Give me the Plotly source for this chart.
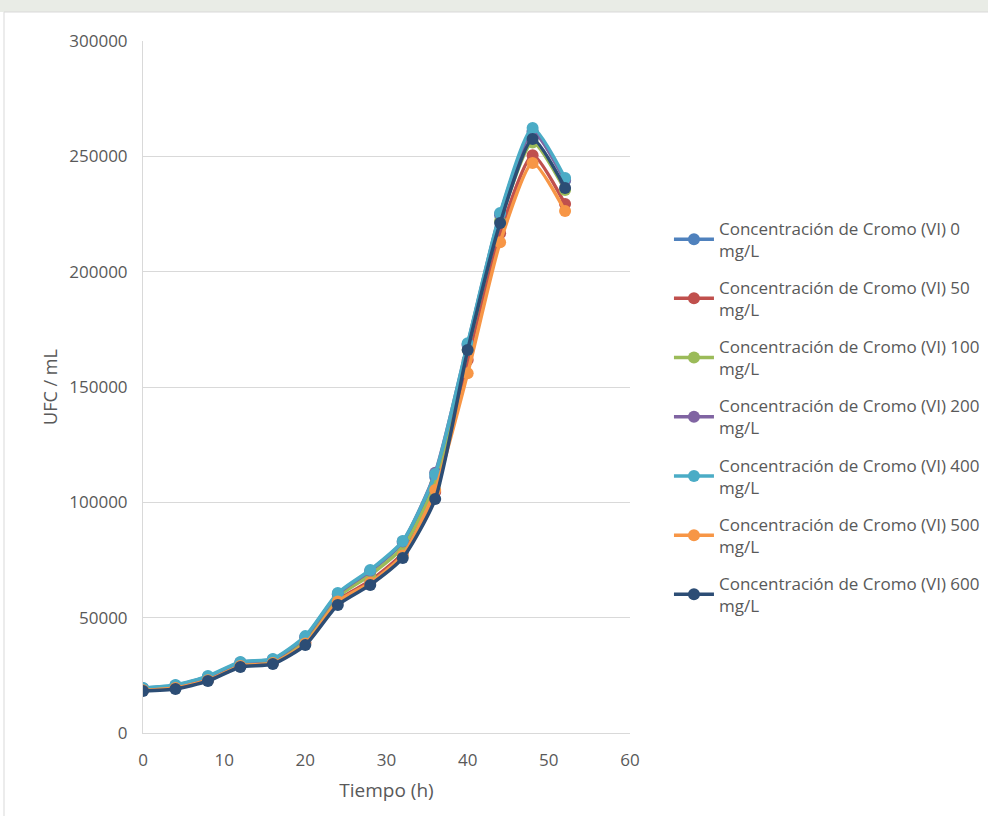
import plotly.graph_objects as go

tiempo = [0, 4, 8, 12, 16, 20, 24, 28, 32, 36, 40, 44, 48, 52]

series_names = [
    "Concentración de Cromo (VI) 0<br>mg/L",
    "Concentración de Cromo (VI) 50<br>mg/L",
    "Concentración de Cromo (VI) 100<br>mg/L",
    "Concentración de Cromo (VI) 200<br>mg/L",
    "Concentración de Cromo (VI) 400<br>mg/L",
    "Concentración de Cromo (VI) 500<br>mg/L",
    "Concentración de Cromo (VI) 600<br>mg/L",
]

ufc_0 = [19400, 20600, 24400, 30500, 31800, 41500, 60000, 70000, 82500, 111000, 168000, 224500, 261000, 239500]
ufc_50 = [18800, 19800, 23300, 29300, 30600, 39300, 57500, 66000, 78000, 104500, 161700, 216700, 250500, 229300]
ufc_100 = [19000, 20200, 23800, 29900, 31200, 40500, 59000, 68500, 80500, 108000, 166000, 222000, 256000, 235400]
ufc_200 = [19300, 20500, 24300, 30600, 31900, 41600, 60300, 70300, 83000, 112800, 168500, 225000, 260500, 239700]
ufc_400 = [19500, 20800, 24700, 30800, 32100, 42000, 60700, 70700, 83200, 112300, 169000, 225400, 262300, 240600]
ufc_500 = [18500, 19500, 22900, 29000, 30300, 38800, 57000, 65200, 77000, 105300, 156000, 212800, 247100, 226300]
ufc_600 = [18200, 19100, 22500, 28600, 29900, 38100, 55500, 64200, 75900, 101400, 166000, 221100, 257500, 236300]

all_values = [ufc_0, ufc_50, ufc_100, ufc_200, ufc_400, ufc_500, ufc_600]
colors = ["#4F81BD", "#C0504D", "#9BBB59", "#8064A2", "#4BACC6", "#F79646", "#2C4D75"]

y_ticks = [0, 50000, 100000, 150000, 200000, 250000, 300000]
x_ticks = [0, 10, 20, 30, 40, 50, 60]

fig = go.Figure()
for i, (name, vals, col) in enumerate(zip(series_names, all_values, colors)):
    fig.add_trace(go.Scatter(
        x=tiempo, y=vals, name=name, mode="lines+markers",
        line=dict(color=col, width=3.5, shape="spline", smoothing=0.6),
        marker=dict(color=col, size=12),
        legendgroup="g%d" % i,
    ))

font_family = "Open Sans, Lato, sans-serif"
fig.update_layout(
    width=988, height=817,
    margin=dict(l=143, r=358, t=41, b=84, autoexpand=False),
    paper_bgcolor="white", plot_bgcolor="white",
    font=dict(family=font_family, color="#595959", size=17),
    showlegend=True,
    legend=dict(
        x=1.08, y=0.755, xanchor="left", yanchor="top",
        font=dict(size=17, color="#595959", family=font_family),
        tracegroupgap=12, itemwidth=40,
        bgcolor="rgba(0,0,0,0)",
    ),
    xaxis=dict(
        range=[0, 60], tickvals=x_ticks, showgrid=False, zeroline=False,
        showline=True, linecolor="#d9d9d9", linewidth=1, ticks="",
        tickfont=dict(size=17, color="#595959"), ticklabelstandoff=12,
        title=dict(text="Tiempo (h)", font=dict(size=19, color="#595959"), standoff=13),
    ),
    yaxis=dict(
        range=[0, 300000], tickvals=y_ticks, showgrid=True, gridcolor="#d9d9d9",
        gridwidth=1, zeroline=False, showline=True, linecolor="#d9d9d9", linewidth=1,
        ticks="", tickformat="d", tickfont=dict(size=17, color="#595959"),
        ticklabelstandoff=11,
        title=dict(text="UFC / mL", font=dict(size=18, color="#595959"), standoff=6),
    ),
    shapes=[
        dict(type="rect", xref="paper", yref="paper", x0=-0.3, x1=1.74, y0=1.0419, y1=1.06,
             fillcolor="#e9ece6", line=dict(width=0), layer="below"),
        dict(type="line", xref="paper", yref="paper", x0=-0.2854, x1=1.74, y0=1.0419, y1=1.0419,
             line=dict(color="#d9d9d9", width=1)),
        dict(type="line", xref="paper", yref="paper", x0=-0.2854, x1=-0.2854, y0=-0.12, y1=1.0419,
             line=dict(color="#d9d9d9", width=1)),
    ],
)

fig.write_html("out.html", config={"displayModeBar": False},
               post_script="document.body.style.margin='0';")
